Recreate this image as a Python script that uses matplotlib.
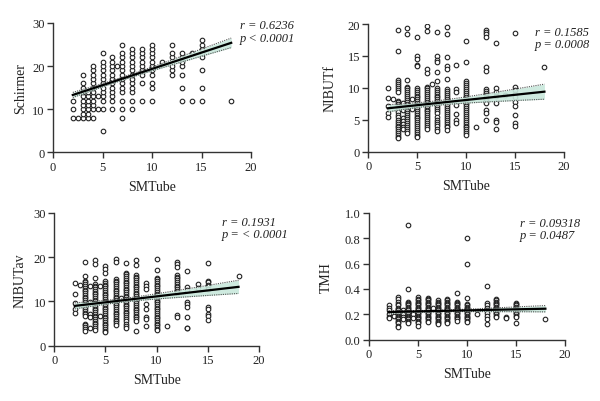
import numpy as np
import matplotlib
matplotlib.use("Agg")
import matplotlib.pyplot as plt

plt.rcParams['font.family'] = ['Liberation Serif', 'DejaVu Serif']

# ---------------- data (x = SMTube value, list of y values) ----------------
schirmer = {
    2: [8, 10, 12], 2.5: [8],
    3: [8, 9, 10, 11, 12, 13, 14, 15, 16, 18],
    3.5: [8, 9, 10, 11, 12, 13, 14],
    4: [8, 10, 11, 12, 13, 14, 15, 16, 17, 18, 19, 20],
    4.5: [10, 13],
    5: [5, 10, 12, 13, 14, 15, 16, 17, 18, 19, 20, 21, 23],
    6: [10, 12, 13, 14, 15, 16, 17, 18, 19, 20, 21, 22],
    6.5: [20],
    7: [8, 10, 12, 14, 15, 16, 17, 18, 19, 20, 21, 22, 23, 25],
    8: [10, 12, 14, 15, 16, 17, 18, 19, 20, 21, 22, 23, 24],
    9: [12, 16, 18, 19, 20, 21, 22, 23, 24],
    10: [12, 15, 16, 18, 19, 20, 21, 22, 23, 24, 25],
    11: [21],
    12: [18, 19, 20, 22, 23, 25],
    13: [12, 15, 18, 20, 21, 22, 23],
    14: [12, 23],
    15: [12, 15, 19, 22, 23, 24, 25, 26],
    18: [12],
}
nibutf = {
    2: [9.9, 8.4, 7.1, 6.0, 5.5], 2.5: [8.2],
    3: [19.0, 15.8, 11.2, 10.9, 10.6, 10.3, 9.9, 9.6, 9.3, 8.0, 7.8, 7.5, 7.2, 7.0, 6.8, 6.5,
        6.2, 5.8, 5.4, 5.0, 4.7, 4.4, 4.1, 3.8, 3.5, 3.2, 2.9, 2.6, 2.3, 2.1],
    3.5: [7.6, 6.6, 5.2, 4.8, 4.4, 3.9, 3.6],
    4: [19.4, 18.5, 11.2, 10.2, 9.9, 9.6, 9.3, 9.0, 8.7, 8.4, 8.1, 7.8, 7.5, 7.2, 6.9, 6.6,
        6.3, 6.0, 5.7, 5.4, 5.1, 4.8, 4.5, 4.2, 3.9, 3.6, 3.3, 3.0],
    4.5: [8.2, 6.7],
    5: [18.0, 15.0, 14.5, 13.6, 13.4, 10.0, 9.7, 9.4, 9.1, 8.8, 8.5, 8.2, 7.9, 7.6, 7.3, 7.0,
        6.7, 6.4, 6.1, 5.8, 5.5, 5.2, 4.9, 4.6, 4.3, 4.0, 3.7, 3.4, 3.1, 2.8, 2.5, 2.3],
    6: [19.7, 18.9, 13.0, 12.4, 10.2, 9.9, 9.6, 9.3, 9.0, 8.7, 8.4, 8.1, 7.8, 7.5, 7.2, 6.9,
        6.6, 6.3, 6.0, 5.7, 5.4, 5.1, 4.8, 4.5, 4.2, 3.9, 3.5],
    6.5: [10.6],
    7: [18.7, 15.0, 14.4, 14.0, 12.5, 11.1, 10.0, 9.7, 9.4, 9.1, 8.8, 8.5, 8.2, 7.9, 7.6, 7.3,
        7.0, 6.7, 6.4, 6.0, 5.5, 5.0, 4.7, 4.4, 4.0, 3.6, 3.2],
    8: [19.5, 18.5, 14.9, 13.5, 13.0, 11.4, 9.8, 9.5, 9.2, 8.9, 8.6, 8.3, 8.0, 7.7, 7.4, 7.1,
        6.8, 6.5, 6.2, 5.9, 5.6, 5.3, 5.0, 4.7, 4.4, 4.1, 3.8, 3.4],
    9: [13.6, 9.8, 9.3, 7.3, 5.9, 4.9, 4.5],
    10: [17.4, 14.0, 11.0, 10.7, 10.4, 10.1, 9.8, 9.5, 9.2, 8.9, 8.6, 8.3, 8.0, 7.7, 7.4, 7.1,
         6.8, 6.5, 6.2, 5.9, 5.6, 5.3, 5.0, 4.7, 4.4, 4.1, 3.8, 3.5, 3.2, 2.9, 2.6],
    11: [3.9],
    12: [19.0, 18.8, 18.5, 18.0, 13.2, 12.6, 9.8, 9.5, 9.2, 8.9, 8.6, 8.3, 8.0, 7.7, 6.5, 6.0, 5.0],
    13: [17.1, 9.9, 9.3, 8.8, 7.7, 5.0, 4.7, 3.6],
    14: [8.9],
    15: [18.6, 10.1, 9.6, 9.0, 8.5, 7.8, 7.1, 5.8, 4.5, 4.1],
    18: [13.2],
}
nibutav = {
    2: [14.2, 11.8, 9.6, 8.3, 7.3], 2.5: [13.7],
    3: [19.0, 15.8, 14.7, 14.3, 13.9, 13.5, 13.1, 12.7, 12.3, 11.9, 11.5, 11.1, 10.7, 10.3,
        9.9, 9.5, 9.1, 8.7, 8.3, 7.9, 7.5, 7.1, 6.7, 5.0, 4.6, 4.2, 3.8, 3.4],
    3.5: [13.4, 9.8, 7.2, 6.4, 4.1],
    4: [19.4, 18.5, 15.2, 14.0, 13.6, 13.2, 12.8, 12.4, 12.0, 11.6, 11.2, 10.8, 10.4, 10.0,
        9.6, 9.2, 8.8, 8.4, 8.0, 7.6, 7.2, 6.8, 6.4, 6.0, 5.6, 5.2, 4.8, 4.4, 4.0, 3.6],
    4.5: [13.4, 6.8],
    5: [18.1, 17.3, 16.5, 14.6, 14.2, 13.8, 13.4, 13.0, 12.6, 12.2, 11.8, 11.4, 11.0, 10.6,
        10.2, 9.8, 9.4, 9.0, 8.6, 8.2, 7.8, 7.4, 7.0, 6.6, 6.2, 5.8, 5.4, 5.0, 4.6, 4.2, 3.8, 3.4, 3.1],
    6: [19.6, 19.0, 15.1, 14.7, 14.3, 13.9, 13.5, 13.1, 12.7, 12.3, 11.9, 11.5, 11.1, 10.7,
        10.3, 9.9, 9.5, 9.1, 8.7, 8.3, 7.9, 7.5, 7.1, 6.7, 6.3, 5.9, 5.5, 5.1, 4.7],
    6.5: [10.7],
    7: [18.6, 16.5, 16.1, 15.7, 15.3, 14.9, 14.5, 14.1, 13.7, 13.3, 12.9, 12.5, 12.1, 11.7,
        11.3, 10.9, 10.5, 10.1, 9.7, 9.3, 8.9, 8.5, 8.1, 7.7, 7.3, 6.9, 6.5, 6.1, 5.5, 5.0, 4.5, 3.9],
    8: [19.4, 18.2, 16.0, 15.6, 15.2, 14.8, 14.4, 14.0, 13.6, 13.2, 12.8, 12.4, 12.0, 11.6,
        11.2, 10.8, 10.4, 10.0, 9.6, 9.2, 8.8, 8.4, 8.0, 7.6, 7.2, 6.8, 6.4, 6.0, 5.5, 3.4],
    9: [14.2, 13.4, 12.8, 9.4, 8.3, 6.6, 6.0, 4.5],
    10: [19.5, 17.1, 15.4, 15.0, 14.6, 14.2, 13.8, 13.4, 13.0, 12.6, 12.2, 11.8, 11.4, 11.0,
         10.6, 10.2, 9.8, 9.4, 9.0, 8.6, 8.2, 7.8, 7.4, 7.0, 6.6, 6.2, 5.8, 5.4, 5.0, 4.6, 4.2, 3.8, 3.5],
    11: [4.4],
    12: [19.0, 18.5, 17.7, 16.0, 15.6, 15.2, 14.8, 14.4, 14.0, 13.6, 13.2, 12.8, 12.4, 12.0, 6.9, 6.6],
    13: [17.0, 13.2, 12.7, 9.9, 9.4, 8.8, 6.6, 4.1, 3.9],
    14: [13.9, 13.0],
    15: [18.6, 14.7, 14.3, 13.7, 13.4, 12.8, 8.8, 8.3, 7.2, 6.8, 5.8],
    18: [15.8],
}
tmh = {
    2: [0.27, 0.25, 0.23, 0.20, 0.18, 0.17], 2.5: [0.19],
    3: [0.34, 0.32, 0.30, 0.28, 0.27, 0.25, 0.24, 0.23, 0.22, 0.21, 0.20, 0.19, 0.18, 0.17,
        0.16, 0.15, 0.14, 0.13, 0.11, 0.10],
    3.5: [0.23, 0.21, 0.20, 0.18, 0.16],
    4: [0.90, 0.40, 0.30, 0.29, 0.28, 0.27, 0.26, 0.25, 0.24, 0.23, 0.22, 0.21, 0.20, 0.19,
        0.18, 0.17, 0.16, 0.15, 0.14, 0.13],
    4.5: [0.20, 0.17],
    5: [0.34, 0.32, 0.31, 0.30, 0.29, 0.28, 0.27, 0.26, 0.25, 0.24, 0.23, 0.22, 0.21, 0.20,
        0.19, 0.18, 0.17, 0.16, 0.15, 0.14, 0.13, 0.11],
    6: [0.33, 0.32, 0.31, 0.30, 0.29, 0.28, 0.27, 0.26, 0.25, 0.24, 0.23, 0.22, 0.21, 0.20,
        0.19, 0.18, 0.17, 0.16, 0.15, 0.14],
    6.5: [0.25],
    7: [0.31, 0.30, 0.29, 0.28, 0.27, 0.26, 0.25, 0.24, 0.23, 0.22, 0.21, 0.20, 0.19, 0.18,
        0.17, 0.16, 0.15, 0.14, 0.13, 0.12],
    8: [0.32, 0.31, 0.30, 0.29, 0.28, 0.27, 0.26, 0.25, 0.24, 0.23, 0.22, 0.21, 0.20, 0.19,
        0.18, 0.17, 0.16, 0.15, 0.14, 0.13],
    9: [0.37, 0.30, 0.29, 0.28, 0.27, 0.26, 0.25, 0.24, 0.23, 0.22, 0.21, 0.20, 0.19, 0.18,
        0.17, 0.16, 0.15],
    10: [0.80, 0.60, 0.33, 0.28, 0.27, 0.26, 0.25, 0.24, 0.23, 0.22, 0.21, 0.20, 0.19, 0.18,
         0.17, 0.16, 0.15, 0.14],
    11: [0.20],
    12: [0.42, 0.29, 0.27, 0.25, 0.23, 0.21, 0.19, 0.16, 0.12],
    13: [0.32, 0.31, 0.30, 0.29, 0.28, 0.27, 0.26, 0.25, 0.24, 0.23, 0.22, 0.21, 0.20, 0.19, 0.18],
    14: [0.18, 0.17],
    15: [0.29, 0.28, 0.27, 0.26, 0.25, 0.24, 0.23, 0.22, 0.21, 0.20, 0.19, 0.18, 0.13],
    18: [0.16],
}

# regression line (intercept, slope) and CI half-width params (center, a, b)
fit_intercepts = [11.79, 6.475, 8.4625, 0.21475]
fit_slopes = [0.756, 0.1625, 0.269, 0.001625]
ci_center = [7.0, 6.5, 6.5, 6.5]
ci_a = [0.35, 0.35, 0.40, 0.006]
ci_b = [0.095, 0.098, 0.125, 0.0021]

y_labels = ["Schirmer", "NIBUTf", "NIBUTav", "TMH"]
y_limits = [(0, 30), (0, 20), (0, 30), (0, 1.0)]
y_ticks = [[0, 10, 20, 30], [0, 5, 10, 15, 20], [0, 10, 20, 30],
           [0.0, 0.2, 0.4, 0.6, 0.8, 1.0]]
y_ticklabels = [None, None, None, ["0.0", "0.2", "0.4", "0.6", "0.8", "1.0"]]
r_texts = ["r = 0.6236", "r = 0.1585", "r = 0.1931", "r = 0.09318"]
p_texts = ["p < 0.0001", "p = 0.0008", "p = < 0.0001", "p = 0.0487"]
x_ticks = [0, 5, 10, 15, 20]
x_label = "SMTube"

# ---------------- layout ----------------
W, H = 600, 402
fig = plt.figure(figsize=(6.0, 4.02), dpi=100)

def px_axes(l, r, t, b):
    return [l / W, 1 - b / H, (r - l) / W, (b - t) / H]

axes_px = [(53, 251, 24, 153.3), (368.3, 564, 25, 152.7),
           (54.3, 259, 214, 346.7), (369, 565, 213.7, 340.7)]
text_px = [(240, 26, 39), (535, 33, 45), (222, 223, 235), (520, 224, 236)]
ylabel_x_px = [27, 337, 27, 333]

datasets = [schirmer, nibutf, nibutav, tmh]
spine_col = "#333333"

for i, data in enumerate(datasets):
    ax = fig.add_axes(px_axes(*axes_px[i]))
    xs, ys = [], []
    for xv, yl in data.items():
        xs.extend([xv] * len(yl))
        ys.extend(yl)
    ax.plot(xs, ys, linestyle="none", marker="o", markersize=3.3,
            markerfacecolor="white", markeredgecolor="#222222",
            markeredgewidth=0.8, zorder=2)

    xx = np.linspace(2, 18, 100)
    yy = fit_intercepts[i] + fit_slopes[i] * xx
    hw = np.sqrt(ci_a[i] ** 2 + (ci_b[i] * (xx - ci_center[i])) ** 2)
    ax.fill_between(xx, yy - hw, yy + hw, color="#c9e8dc", alpha=0.9,
                    linewidth=0, zorder=3)
    ax.plot(xx, yy - hw, color="#555555", linestyle=(0, (1, 1)), linewidth=0.8, zorder=4)
    ax.plot(xx, yy + hw, color="#555555", linestyle=(0, (1, 1)), linewidth=0.8, zorder=4)
    ax.plot(xx, yy, color="black", linewidth=1.6, zorder=5)

    ax.set_xlim(0, 20)
    ax.set_ylim(*y_limits[i])
    ax.set_xticks(x_ticks)
    ax.set_yticks(y_ticks[i])
    if y_ticklabels[i] is not None:
        ax.set_yticklabels(y_ticklabels[i])
    for s in ["top", "right"]:
        ax.spines[s].set_visible(False)
    for s in ["left", "bottom"]:
        ax.spines[s].set_color(spine_col)
        ax.spines[s].set_linewidth(1.0)
    ax.tick_params(direction="out", length=4, width=1.0, color=spine_col,
                   labelsize=9, labelcolor="#222222", pad=2)
    ax.set_xlabel(x_label, fontsize=10, color="#222222", labelpad=5)
    ax.set_ylabel(y_labels[i], fontsize=10, color="#222222")
    ax.yaxis.set_label_coords((ylabel_x_px[i] - axes_px[i][0]) / (axes_px[i][1] - axes_px[i][0]), 0.5)

    tx, ry, py = text_px[i]
    fig.text(tx / W, 1 - ry / H, r_texts[i], style="italic", fontsize=9,
             va="center", ha="left", color="#222222")
    fig.text(tx / W, 1 - py / H, p_texts[i], style="italic", fontsize=9,
             va="center", ha="left", color="#222222")

fig.savefig("out.png", dpi=100, facecolor="white")
